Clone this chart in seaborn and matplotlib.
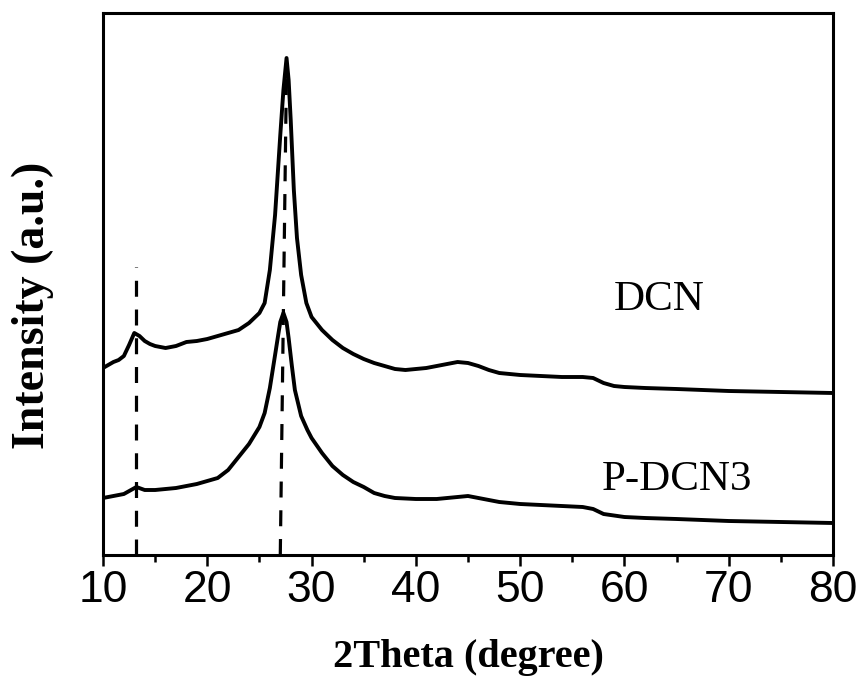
import numpy as np
import pandas as pd
import matplotlib
matplotlib.use("Agg")
import matplotlib.pyplot as plt
import seaborn as sns

# ---- data (intensity in arbitrary units) ----
dcn_theta = [10, 11, 11.5, 12, 12.5, 13.0, 13.5, 14, 14.5, 15, 16, 17, 18, 19, 20, 21, 22, 23, 24, 25,
             25.5, 26, 26.5, 27, 27.3, 27.6, 27.8, 28.0, 28.3, 28.6, 29, 29.5, 30, 31, 32, 33, 34, 35,
             36, 37, 38, 39, 40, 41, 42, 43, 44, 45, 46, 47, 48, 49, 50, 52, 54, 56, 57, 58, 59, 60,
             62, 65, 70, 75, 80]
dcn_int = [187, 193, 195, 199, 210, 222, 219, 214, 211, 209, 207, 209, 213, 214, 216, 219, 222, 225, 232, 242,
           252, 285, 340, 420, 465, 497, 475, 435, 365, 317, 280, 252, 238, 225, 215, 207, 201, 196,
           192, 189, 186, 185, 186, 187, 189, 191, 193, 192, 189, 185, 182, 181, 180, 179, 178, 178, 177, 172, 169, 168,
           167, 166, 164, 163, 162]

pdcn_theta = [10, 11, 12, 13.2, 14, 15, 16, 17, 18, 19, 20, 21, 22, 23, 24, 25, 25.5, 26, 26.5, 26.8, 27.0,
              27.3, 27.6, 27.8, 28.1, 28.4, 29, 29.6, 30, 31, 32, 33, 34, 35, 36, 37, 38, 40, 42, 44, 45,
              46, 48, 50, 52, 54, 56, 57, 58, 60, 62, 65, 70, 75, 80]
pdcn_int = [57, 59, 61, 68, 65, 65, 66, 67, 69, 71, 74, 77, 85, 98, 111, 128, 142, 167, 200, 220, 233,
            242, 233, 217, 190, 165, 139, 125, 117, 102, 89, 80, 73, 68, 62, 59, 57, 56, 56, 58, 59,
            57, 53, 51, 50, 49, 48, 46, 41, 38, 37, 36, 34, 33, 32]

ref_x1 = [13.2, 13.2]
ref_y1 = [0, 288]
ref_x2 = [27.0, 27.6]
ref_y2 = [0, 490]

labels = ["DCN", "P-DCN3"]
label_pos_x = [63.3, 65.0]
label_pos_y = [255, 75]

xticks = [10, 20, 30, 40, 50, 60, 70, 80]

# ---- plot ----
sns.set_style("ticks")
plt.rcParams["font.family"] = ["Liberation Sans", "DejaVu Sans"]
plt.rcParams["text.color"] = "black"
plt.rcParams["axes.labelcolor"] = "black"
plt.rcParams["xtick.color"] = "black"
plt.rcParams["ytick.color"] = "black"

fig = plt.figure(figsize=(8.64, 6.89), dpi=100)
ax = fig.add_axes([103 / 864, 134 / 689, 730 / 864, 542 / 689])

df1 = pd.DataFrame({"theta": dcn_theta, "intensity": dcn_int})
df2 = pd.DataFrame({"theta": pdcn_theta, "intensity": pdcn_int})
sns.lineplot(data=df1, x="theta", y="intensity", ax=ax, color="black", lw=2.8,
             estimator=None, sort=False)
sns.lineplot(data=df2, x="theta", y="intensity", ax=ax, color="black", lw=2.8,
             estimator=None, sort=False)

ax.plot(ref_x1, ref_y1, color="black", lw=2.3, dashes=(5, 4))
ax.plot(ref_x2, ref_y2, color="black", lw=2.3, dashes=(5, 4))

for t, xx, yy in zip(labels, label_pos_x, label_pos_y):
    ax.text(xx, yy, t, ha="center", va="center", fontsize=31,
            family="Liberation Serif", color="black")

ax.set_xlim(10, 80)
ax.set_ylim(0, 542)
ax.set_xticks(xticks)
ax.set_xticklabels([str(v) for v in xticks])
ax.set_xticks(np.arange(15, 80, 10), minor=True)
ax.set_yticks([])

ax.tick_params(axis="x", which="major", direction="out", length=8, width=1.8,
               labelsize=32, pad=3, colors="black", labelcolor="black")
ax.tick_params(axis="x", which="minor", direction="out", length=5, width=1.8)

for s in ax.spines.values():
    s.set_visible(True)
    s.set_linewidth(2.2)
    s.set_color("black")

ax.set_xlabel("2Theta (degree)", fontsize=29, fontweight="bold",
              family="Liberation Serif", color="black")
ax.set_ylabel("Intensity (a.u.)", fontsize=33, fontweight="bold",
              family="Liberation Serif", color="black")
ax.xaxis.set_label_coords(0.5, -0.155)
ax.yaxis.set_label_coords(-0.067, 0.46)

fig.savefig("out.png", dpi=100, facecolor="white")
